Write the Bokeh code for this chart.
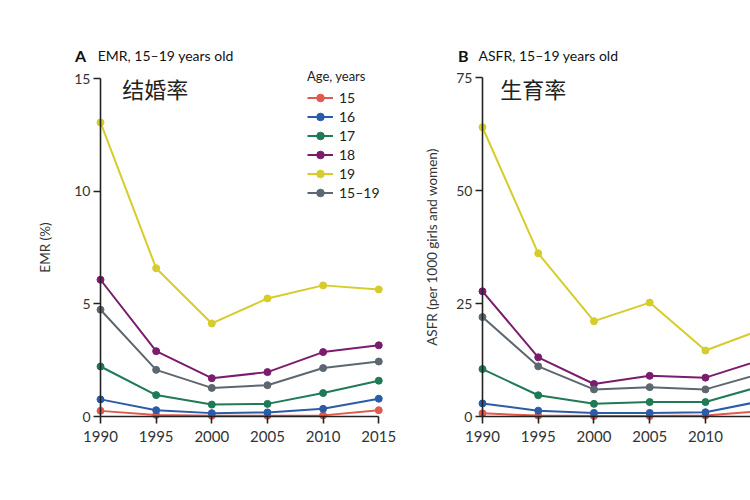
from bokeh.plotting import figure
from bokeh.layouts import row
from bokeh.models import Label, Legend, LegendItem, Range1d, FixedTicker
from bokeh.embed import file_html
from bokeh.resources import INLINE

years = [1990, 1995, 2000, 2005, 2010, 2015]
age_groups = ["15", "16", "17", "18", "19", "15–19"]

emr_15 = [0.25, 0.07, 0.03, 0.03, 0.05, 0.28]
emr_16 = [0.76, 0.28, 0.15, 0.18, 0.34, 0.79]
emr_17 = [2.22, 0.95, 0.53, 0.56, 1.04, 1.59]
emr_18 = [6.07, 2.90, 1.70, 1.97, 2.86, 3.16]
emr_19 = [13.05, 6.58, 4.13, 5.24, 5.82, 5.64]
emr_all = [4.74, 2.07, 1.27, 1.39, 2.15, 2.44]

asfr_15 = [0.7, 0.2, 0.1, 0.1, 0.2, 1.2]
asfr_16 = [2.9, 1.3, 0.8, 0.8, 0.95, 3.4]
asfr_17 = [10.5, 4.7, 2.8, 3.2, 3.2, 6.7]
asfr_18 = [27.7, 13.1, 7.2, 9.0, 8.6, 12.5]
asfr_19 = [64.0, 36.1, 21.1, 25.2, 14.6, 19.2]
asfr_all = [22.0, 11.1, 6.0, 6.5, 6.0, 9.5]

colors = ["#e05a4e", "#2b5ca8", "#1f7a55", "#7b1c6e", "#d6cc2a", "#5c6770"]

emr_ticks = [0, 5, 10, 15]
asfr_ticks = [0, 25, 50, 75]
year_ticks = [1990, 1995, 2000, 2005, 2010, 2015]

FONT = "Lato"


def style_axes(p, yticks, ymax, ylabel, label_standoff):
    p.xaxis.ticker = FixedTicker(ticks=year_ticks)
    p.yaxis.ticker = FixedTicker(ticks=yticks)
    p.xaxis.bounds = (1990, 2015)
    p.yaxis.bounds = (0, ymax)
    p.xaxis.fixed_location = 0
    p.yaxis.fixed_location = 1990
    for ax in (p.xaxis, p.yaxis):
        ax.axis_line_color = "#222222"
        ax.axis_line_width = 1.6
        ax.major_tick_line_color = "#222222"
        ax.major_tick_line_width = 1.6
        ax.major_tick_in = 0
        ax.major_tick_out = 7
        ax.minor_tick_line_color = None
        ax.major_label_text_font = FONT
        ax.major_label_text_color = "#333333"
    p.xaxis.major_label_text_font_size = "15px"
    p.xaxis.major_label_standoff = 7
    p.yaxis.major_label_text_font_size = "14px"
    p.yaxis.major_label_standoff = 3
    p.yaxis.axis_label = ylabel
    p.yaxis.axis_label_text_font = FONT
    p.yaxis.axis_label_text_font_size = "13.5px"
    p.yaxis.axis_label_text_font_style = "normal"
    p.yaxis.axis_label_text_color = "#333333"
    p.yaxis.axis_label_standoff = label_standoff
    p.xgrid.grid_line_color = None
    p.ygrid.grid_line_color = None
    p.outline_line_color = None


def make_panel(width, xr, yr, series, yticks, ymax, ylabel, label_standoff):
    p = figure(width=width, height=500, output_backend="svg", toolbar_location=None,
               title=None, x_range=Range1d(*xr), y_range=Range1d(*yr),
               min_border_left=0, min_border_right=0,
               min_border_top=0, min_border_bottom=0)
    style_axes(p, yticks, ymax, ylabel, label_standoff)
    items = []
    for vals, col, name in zip(series, colors, age_groups):
        lr = p.line(years, vals, line_color=col, line_width=2)
        sr = p.scatter(years, vals, marker="circle", size=7, fill_color=col, line_color=col)
        items.append(LegendItem(label=name, renderers=[lr, sr]))
    return p, items


# Panel A  (1990 at x=100 px, 11.13 px/yr; 0 at y=416 px, 22.53 px/unit)
pA, itemsA = make_panel(420, (1981.015, 2018.75), (-3.728, 18.464),
                        [emr_15, emr_16, emr_17, emr_18, emr_19, emr_all],
                        emr_ticks, 15, "EMR (%)", 18)
legend = Legend(items=itemsA, location=(307, 298), title="Age, years",
                title_text_font=FONT, title_text_font_size="13px", title_text_font_style="normal",
                title_text_color="#222222", title_standoff=4,
                label_text_font=FONT, label_text_font_size="14px", label_text_color="#222222",
                glyph_width=26, glyph_height=19, label_height=19, label_standoff=6,
                spacing=0, padding=0, margin=0, border_line_color=None,
                background_fill_alpha=0)
pA.add_layout(legend)
pA.add_layout(Label(x=1987.7, y=16.02, text="A", text_font=FONT, text_font_size="16px",
                    text_font_style="bold", text_baseline="middle", text_color="#111111"))
pA.add_layout(Label(x=1989.75, y=16.02, text="EMR, 15–19 years old", text_font=FONT,
                    text_font_size="14px", text_baseline="middle", text_color="#111111"))
pA.add_layout(Label(x=1991.95, y=14.56, text="结婚率", text_font="Noto Sans CJK SC",
                    text_font_size="22px", text_baseline="middle", text_color="#222222"))

# Panel B  (1990 at x=482 px, 11.15 px/yr; 0 at y=416 px, 4.52 px/unit)
pB, itemsB = make_panel(330, (1984.44, 2014.04), (-18.58, 92.04),
                        [asfr_15, asfr_16, asfr_17, asfr_18, asfr_19, asfr_all],
                        asfr_ticks, 75, "ASFR (per 1000 girls and women)", 13)
pB.add_layout(Label(x=1987.8, y=79.9, text="B", text_font=FONT, text_font_size="16px",
                    text_font_style="bold", text_baseline="middle", text_color="#111111"))
pB.add_layout(Label(x=1989.64, y=79.9, text="ASFR, 15–19 years old", text_font=FONT,
                    text_font_size="14px", text_baseline="middle", text_color="#111111"))
pB.add_layout(Label(x=1991.6, y=72.6, text="生育率", text_font="Noto Sans CJK SC",
                    text_font_size="22px", text_baseline="middle", text_color="#222222"))

layout = row(pA, pB)
open("out.html", "w").write(file_html(layout, INLINE))
